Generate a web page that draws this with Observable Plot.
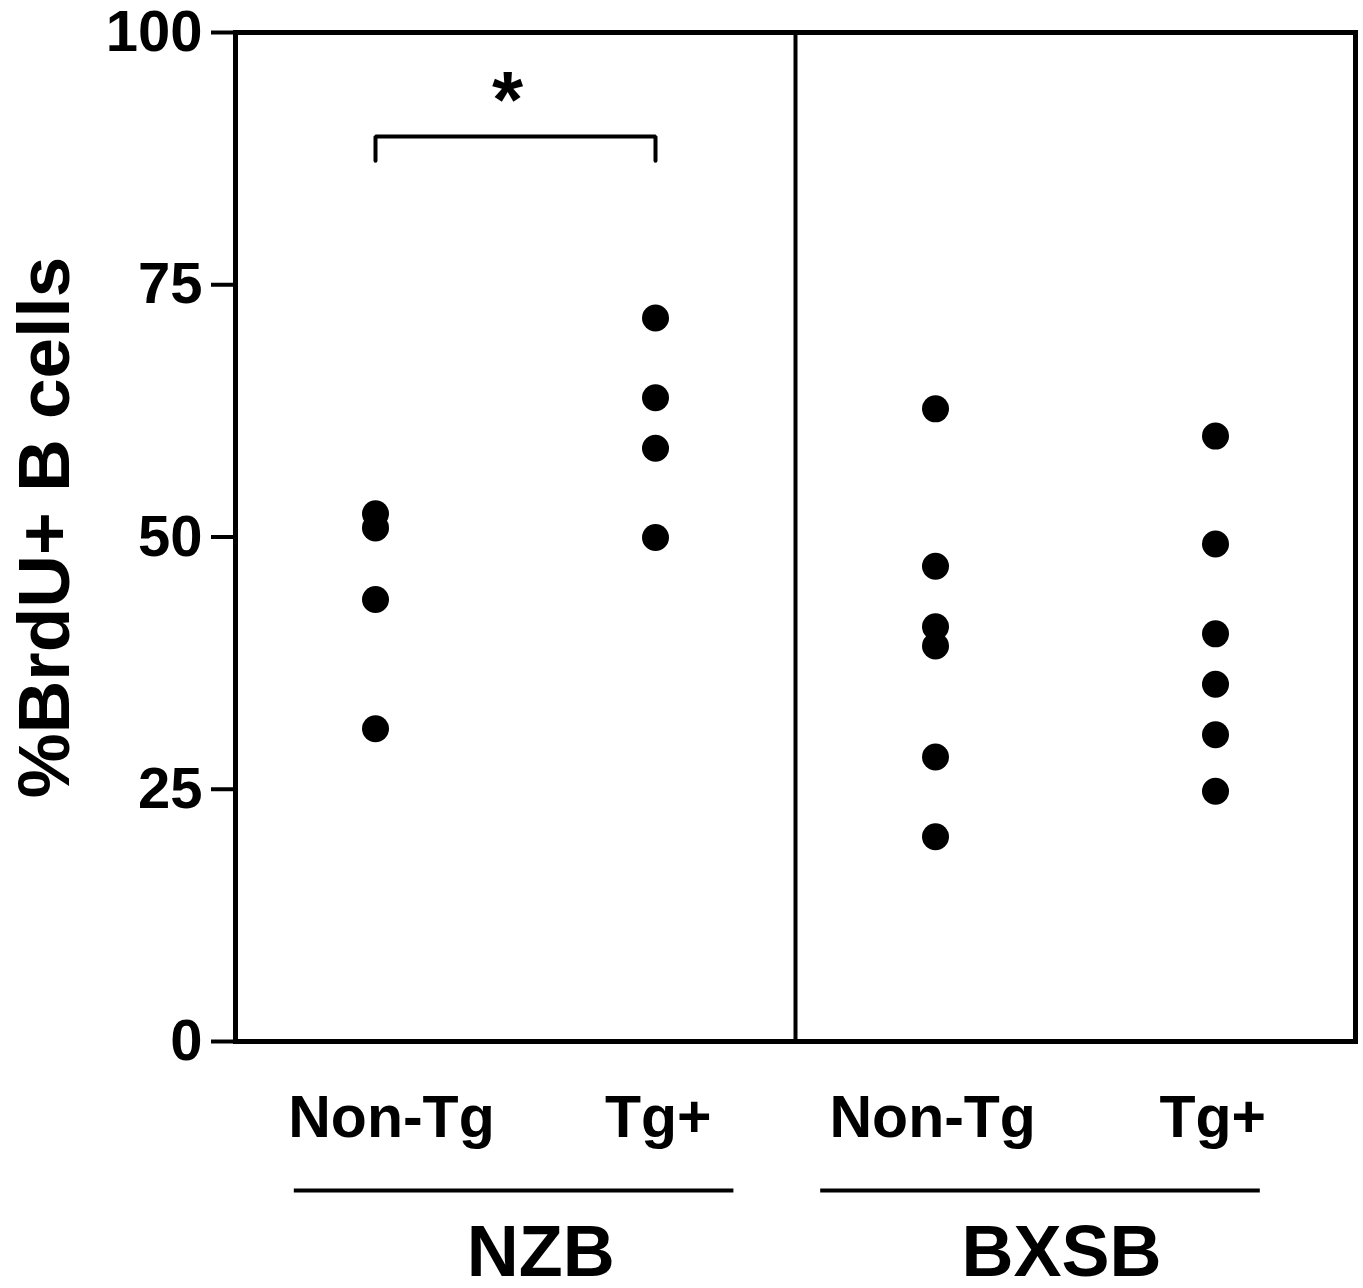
<!DOCTYPE html>
<html><head><meta charset="utf-8">
<script src="https://cdn.jsdelivr.net/npm/d3@7"></script>
<script src="https://cdn.jsdelivr.net/npm/@observablehq/plot@0.6"></script>
<style>
body{margin:0;background:#fff}
svg{overflow:visible}
</style>
</head><body><div id="chart"></div>
<script>
// ---- data ----
const groups = ["NZB", "NZB", "BXSB", "BXSB"];
const categories = ["Non-Tg", "Tg+", "Non-Tg", "Tg+"];
const nzbNonTg = [52.3, 50.9, 43.8, 31.0];
const nzbTg = [71.7, 63.8, 58.8, 49.95];
const bxsbNonTg = [62.7, 47.1, 41.1, 39.2, 28.2, 20.3];
const bxsbTg = [60.0, 49.3, 40.4, 35.4, 30.4, 24.8];
const yTicks = [0, 25, 50, 75, 100];
const yLabel = "%BrdU+ B cells";
const significance = {from: 0, to: 1, label: "*", value: 89.7};

// ---- layout (offsets in category units, not data) ----
const labelShift = [0.057, 0.01, -0.01, -0.01];
const groupLayout = {
  NZB: {left: -0.29, right: 0.28, label: 0.09},
  BXSB: {left: -0.41, right: 0.16, label: -0.05}
};

// ---- derived tables ----
const seriesValues = [nzbNonTg, nzbTg, bxsbNonTg, bxsbTg];
const points = seriesValues.flatMap((vals, i) => vals.map(v => ({pos: i + 1, value: v})));
const catTable = categories.map((c, i) => ({pos: i + 1 + labelShift[i], label: c}));
const groupNames = [...new Set(groups)];
const groupTable = groupNames.map(g => {
  const idx = groups.map((d, i) => d === g ? i + 1 : null).filter(d => d !== null);
  const lo = d3.min(idx), hi = d3.max(idx), L = groupLayout[g];
  return {name: g, x1: lo + L.left, x2: hi + L.right, mid: (lo + hi) / 2 + L.label};
});
const dividers = groupNames.slice(1).map(g => groups.indexOf(g) + 0.5);
const s = significance;
const bracket = [
  {x: s.from + 1, y: s.value - 2.4},
  {x: s.from + 1, y: s.value},
  {x: s.to + 1, y: s.value},
  {x: s.to + 1, y: s.value - 2.4}
];

const font = "'Liberation Sans', Arial, Helvetica, sans-serif";

const chart = Plot.plot({
  width: 1363,
  height: 1288,
  marginTop: 32,
  marginRight: 8,
  marginBottom: 247,
  marginLeft: 235,
  style: {fontFamily: font, background: "#fff", color: "#000"},
  x: {domain: [0.5, categories.length + 0.5], axis: null},
  y: {domain: [0, 100], axis: null},
  marks: [
    Plot.axisY({ticks: yTicks, tickSize: 24, tickPadding: 9, fontSize: 58, fontWeight: "bold", strokeWidth: 4, label: null, fill: "#000"}),
    Plot.frame({stroke: "#000", strokeWidth: 5}),
    Plot.ruleX(dividers, {y1: 0, y2: 100, stroke: "#000", strokeWidth: 4}),
    Plot.dot(points, {x: "pos", y: "value", r: 13.5, fill: "#000", stroke: "none"}),
    Plot.line(bracket, {x: "x", y: "y", stroke: "#000", strokeWidth: 4, strokeLinejoin: "miter", curve: "linear"}),
    Plot.text([s], {x: d => (d.from + d.to) / 2 + 1, y: d => d.value, text: "label", dx: -8, dy: -9, lineAnchor: "bottom", fontSize: 80, fontWeight: "bold", fill: "#000"}),
    Plot.text(catTable, {x: "pos", y: -9.51, text: "label", lineAnchor: "bottom", fontSize: 59, fontWeight: "bold", fill: "#000"}),
    Plot.ruleY(groupTable, {x1: "x1", x2: "x2", y: -14.77, stroke: "#000", strokeWidth: 4}),
    Plot.text(groupTable, {x: "mid", y: -23.2, text: "name", lineAnchor: "bottom", fontSize: 72, fontWeight: "bold", fill: "#000"}),
    Plot.text([yLabel], {frameAnchor: "left", text: d => d, rotate: -90, textAnchor: "middle", dx: -167, dy: -9.5, lineAnchor: "bottom", fontSize: 73, fontWeight: "bold", fill: "#000"})
  ]
});
document.getElementById("chart").appendChild(chart);
</script>
</body></html>
